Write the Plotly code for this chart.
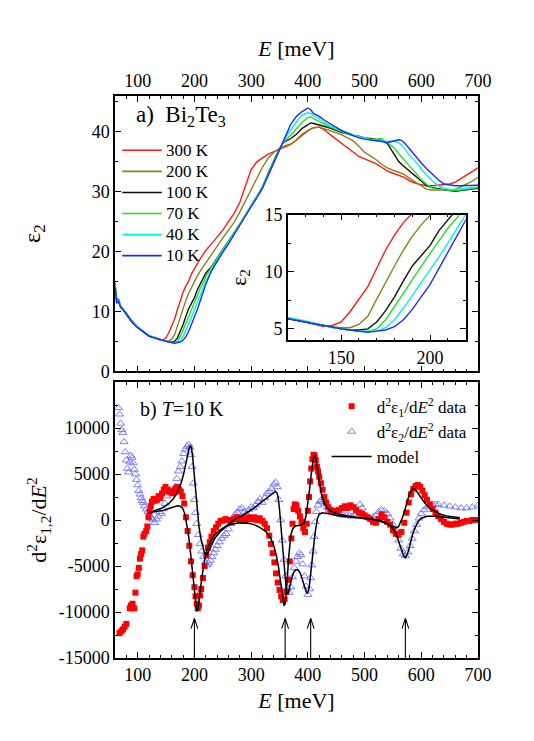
import plotly.graph_objects as go

# ---------- panel a) : eps2 spectra ----------
E_top = [60, 63, 66, 70, 75, 80, 90, 100, 110, 120, 130, 140,
         145, 150, 155, 160, 165, 170, 175, 180, 185, 190, 195, 200, 205, 210, 215, 220,
         230, 240, 250, 260, 270, 280, 290, 300, 310, 320, 330, 340, 350, 355, 360,
         370, 380, 390, 400, 405, 410, 420, 430, 440, 450, 460, 470, 480, 490, 500,
         510, 520, 530, 540, 550, 560, 565, 570, 580, 590, 600, 610, 620, 630, 640,
         650, 660, 670, 680, 690, 700]

eps2_300K = [14.0, 12.2, 11.5, 10.9, 10.2, 9.5, 8.2, 7.3, 6.6, 5.9, 5.6, 5.2,
             5.3, 5.6, 6.5, 7.6, 8.7, 10.3, 11.9, 13.2, 14.3, 15.1, 16.3, 17.2, 18.0, 18.8, 19.5, 20.2,
             21.3, 22.4, 23.6, 25.0, 26.4, 28.2, 31.0, 33.7, 35.0, 35.7, 36.3, 36.7, 37.1, 37.4, 37.6,
             37.9, 38.7, 39.6, 40.2, 40.5, 40.7, 40.8, 40.3, 39.5, 38.8, 38.1, 37.3, 36.6, 35.9, 35.5,
             35.1, 34.7, 34.1, 33.5, 33.1, 32.8, 32.6, 32.4, 31.8, 31.4, 31.2, 31.0, 31.0, 31.1, 31.2,
             31.3, 31.6, 32.2, 32.9, 33.4, 34.0]
eps2_200K = [14.3, 11.8, 11.9, 10.7, 10.3, 9.6, 8.3, 7.3, 6.6, 5.9, 5.6, 5.3,
             5.2, 5.1, 5.1, 5.4, 6.1, 7.6, 9.1, 10.5, 11.9, 13.1, 14.1, 15.0, 15.9, 16.7, 17.4, 18.1,
             19.7, 21.0, 22.3, 23.6, 24.9, 26.6, 28.5, 30.5, 32.4, 34.1, 35.6, 36.6, 37.2, 37.5, 37.7,
             38.0, 38.6, 39.4, 40.2, 40.5, 40.7, 40.8, 40.5, 40.2, 39.9, 39.5, 39.0, 38.5, 37.6, 36.6,
             36.0, 35.4, 34.6, 34.0, 33.6, 33.3, 33.1, 32.9, 32.2, 31.6, 31.0, 30.4, 30.3, 30.3, 30.2,
             30.3, 30.4, 30.8, 31.3, 31.8, 32.4]
eps2_100K = [14.8, 11.4, 12.1, 10.9, 10.2, 9.7, 8.4, 7.4, 6.7, 5.9, 5.6, 5.3,
             5.1, 5.0, 4.9, 4.9, 5.0, 5.6, 6.6, 7.8, 9.2, 10.5, 11.4, 12.3, 13.6, 14.5, 15.5, 16.4,
             17.5, 18.9, 20.2, 21.6, 23.2, 24.6, 26.1, 27.6, 29.1, 30.8, 33.1, 35.3, 37.2, 38.0, 38.4,
             38.9, 39.6, 40.6, 41.3, 41.5, 41.4, 41.2, 40.9, 40.6, 40.2, 39.9, 39.7, 39.4, 39.3, 39.0,
             38.9, 38.8, 38.6, 38.1, 36.6, 35.1, 34.6, 34.2, 33.4, 32.6, 31.7, 31.0, 30.7, 30.5, 30.4,
             30.2, 30.1, 30.2, 30.3, 30.5, 30.6]
eps2_70K = [14.6, 11.6, 12.0, 10.8, 10.3, 9.6, 8.3, 7.4, 6.7, 6.0, 5.6, 5.3,
            5.1, 5.0, 4.9, 4.8, 4.8, 5.0, 5.8, 6.9, 8.1, 9.3, 10.5, 11.6, 12.7, 13.8, 14.7, 15.8,
            17.4, 18.8, 20.2, 21.6, 23.1, 24.6, 26.1, 27.6, 29.1, 30.7, 33.0, 35.2, 37.2, 38.0, 38.6,
            39.5, 40.5, 41.6, 42.4, 42.5, 42.2, 41.7, 41.2, 40.8, 40.4, 40.0, 39.7, 39.4, 39.2, 39.0,
            38.8, 38.8, 38.9, 38.2, 37.5, 36.4, 35.8, 35.3, 34.2, 33.2, 32.0, 31.2, 30.6, 30.4, 30.3,
            30.2, 30.2, 30.3, 30.5, 30.6, 30.7]
eps2_40K = [14.4, 11.7, 11.8, 10.8, 10.2, 9.6, 8.3, 7.4, 6.7, 6.0, 5.7, 5.3,
            5.1, 5.0, 4.9, 4.8, 4.8, 4.8, 5.1, 5.8, 6.8, 7.9, 9.1, 10.2, 11.3, 12.5, 13.8, 15.0,
            16.9, 18.6, 20.1, 21.5, 23.0, 24.5, 26.1, 27.6, 29.1, 30.7, 32.8, 35.0, 37.2, 38.0, 39.0,
            40.4, 41.7, 42.8, 43.2, 43.1, 42.7, 42.2, 41.5, 41.0, 40.6, 40.2, 39.8, 39.5, 39.2, 38.9,
            38.7, 38.6, 38.5, 38.4, 38.5, 38.2, 37.8, 37.3, 36.0, 35.0, 33.8, 32.7, 31.8, 31.0, 30.6,
            30.4, 30.4, 30.5, 30.6, 30.7, 30.8]
eps2_10K = [14.2, 11.5, 11.7, 10.7, 10.2, 9.5, 8.2, 7.3, 6.6, 5.9, 5.6, 5.3,
            5.1, 5.0, 4.9, 4.8, 4.7, 4.8, 4.9, 5.2, 5.8, 6.7, 7.8, 8.9, 10.3, 11.7, 13.1, 14.5,
            16.8, 18.4, 19.9, 21.3, 22.9, 24.5, 26.0, 27.5, 29.0, 30.6, 32.7, 34.9, 37.2, 38.1, 39.4,
            41.3, 42.6, 43.4, 44.0, 43.7, 43.1, 42.6, 41.9, 41.3, 40.8, 40.2, 39.8, 39.4, 39.0, 38.8,
            38.7, 38.6, 38.4, 38.2, 38.4, 38.7, 38.6, 38.2, 37.1, 35.9, 34.8, 33.8, 32.9, 32.0, 31.3,
            31.1, 31.0, 31.0, 31.0, 31.0, 31.1]

temps = ['300 K', '200 K', '100 K', '70 K', '40 K', '10 K']
spectra = [eps2_300K, eps2_200K, eps2_100K, eps2_70K, eps2_40K, eps2_10K]
colors = ['#ff1a1a', '#8c8214', '#111111', '#22e022', '#00f0f0', '#1a2cff']

# ---------- panel b) : second derivatives at 10 K ----------
E_d1 = [68, 71, 74, 77, 80, 86, 88, 91, 94, 96, 98, 100, 102, 104, 106, 108, 110, 112, 115, 117,
        119, 121, 123, 125, 128, 131, 134, 137, 140, 143, 146, 149, 152, 155, 158, 161, 164, 167,
        170, 173, 176, 179, 182, 185, 188, 191, 194, 197, 200, 202, 204, 206, 208, 210, 212, 215,
        218, 221, 224, 227, 230, 234, 238, 242, 246, 250, 255, 260, 265, 270, 275, 280, 285, 290,
        295, 300, 305, 310, 315, 320, 324, 328, 332, 335, 338, 341, 344, 347, 350, 353, 356, 359,
        362, 365, 368, 371, 373, 375, 377, 380, 383, 386, 389, 392, 395, 398, 400, 402, 404, 406,
        408, 410, 412, 414, 416, 418, 420, 423, 426, 429, 432, 436, 440, 445, 450, 455, 460, 465,
        470, 475, 480, 485, 490, 495, 500, 505, 510, 515, 520, 525, 530, 535, 540, 545, 550, 555,
        560, 565, 570, 574, 578, 582, 586, 590, 594, 598, 602, 606, 610, 615, 620, 625, 630, 635,
        640, 645, 650, 655, 660, 665, 670, 675, 680, 685, 690, 695, 700]
d2eps1 = [-12300, -12100, -11900, -11600, -11300, -9600, -9300, -9100, -9600, -7900, -6100, -5900,
          -5200, -4200, -3700, -3300, -1800, -1500, -1200, -700, 300, 900, 1500, 2000, 2300, 2100,
          2200, 2600, 2400, 2900, 3300, 3600, 3300, 3100, 3100, 2900, 3200, 3400, 3600, 3300, 3100,
          2600, 1800, 300, -1200, -2800, -4500, -6000, -7300, -8300, -9100, -9600, -9300, -8200,
          -7500, -6300, -5000, -3800, -3000, -2400, -1800, -1200, -800, -400, -100, -50, 100, 0,
          -200, 100, 300, 0, 200, -100, 300, 100, 300, 0, 200, -100, -400, -900, -1700, -2600,
          -3600, -4600, -5800, -6800, -7600, -8300, -8700, -8600, -7800, -6500, -4500, -2000, -400,
          1200, 1700, 1600, 1000, 400, -200, -900, -1300, -400, 1000, 2500, 4200, 5600, 6600, 7100,
          7000, 6500, 5800, 5300, 4700, 4000, 3300, 2500, 1900, 1400, 1100, 1000, 1000, 1100, 1300,
          1500, 1300, 1600, 1400, 1100, 800, 700, 500, 300, 100, -200, -300, 100, 600, 300, -200,
          -500, -1100, -1500, -1600, -1300, -300, 800, 1900, 2800, 3400, 3700, 3800, 3600, 3200,
          2700, 2200, 1700, 1200, 800, 400, 100, -200, -400, -500, -500, -400, -400, -300, -200,
          -100, -100, 0, 0, 0]

E_d2 = [66, 68, 70, 72, 74, 76, 78, 80, 82, 84, 86, 88, 90, 92, 94, 96, 98, 100, 102, 104, 106,
        108, 110, 112, 115, 118, 121, 124, 127, 130, 133, 136, 139, 142, 145, 148, 151, 154, 157,
        160, 163, 166, 169, 172, 175, 178, 181, 184, 187, 190, 192, 194, 196, 198, 200, 202, 204,
        207, 210, 213, 216, 219, 222, 225, 228, 231, 234, 237, 240, 244, 248, 252, 256, 260, 264,
        268, 272, 276, 280, 284, 288, 292, 296, 300, 304, 308, 312, 316, 320, 324, 328, 332, 336,
        340, 343, 346, 349, 352, 355, 358, 361, 364, 367, 370, 373, 376, 379, 382, 385, 388, 391,
        394, 397, 400, 403, 405, 407, 409, 411, 413, 415, 418, 421, 424, 427, 430, 434, 438, 443,
        448, 453, 458, 463, 468, 473, 478, 483, 488, 492, 496, 500, 505, 510, 515, 520, 525, 530,
        535, 540, 545, 550, 555, 560, 564, 568, 572, 576, 580, 584, 588, 592, 596, 600, 605, 610,
        615, 620, 625, 630, 640, 650, 660, 670, 680, 690, 700]
d2eps2 = [12200, 11500, 10500, 9800, 9500, 8500, 7400, 6500, 5600, 5200, 6300, 7000, 6800, 6200,
          5500, 5000, 4400, 3800, 3200, 2800, 2400, 2100, 1900, 1500, 1200, 900, 500, 200, 0, -300,
          100, 400, 900, 700, 1200, 1800, 2600, 3000, 3300, 3100, 2900, 3600, 4500, 5300, 5800,
          6400, 7200, 7700, 8000, 8200, 7900, 7100, 5800, 4000, 2200, 800, -400, -1600, -2600, -3400,
          -4000, -4600, -4900, -4700, -4400, -4000, -3600, -3200, -2800, -2400, -2000, -1700, -1500,
          -1000, -400, 200, 600, 800, 1200, 1300, 900, 700, 1100, 1400, 1300, 1600, 2000, 2300, 1900,
          2400, 2900, 3100, 3400, 3900, 4100, 3600, 2200, 0, -2200, -4300, -6100, -7400, -7900,
          -7300, -6200, -5200, -4500, -4000, -3600, -3800, -4800, -6100, -7200, -8100, -7500, -6300,
          -4900, -3400, -1800, -200, 900, 1600, 2000, 2200, 2000, 1800, 1400, 1100, 900, 800, 700,
          600, 500, 500, 500, 400, 500, 900, 1700, 1300, 600, 300, 200, 300, 500, 900, 1100, 1000,
          700, 200, -500, -1300, -2200, -3100, -3700, -3900, -3500, -2800, -2000, -1200, -500, 200,
          700, 1100, 1400, 1600, 1700, 1700, 1700, 1600, 1500, 1400, 1300, 1300, 1400, 1600]

E_modelA = [120, 135, 145, 155, 163, 170, 176, 181, 185, 188, 191, 193, 195, 197, 199, 201, 203,
            205, 208, 211, 214, 217, 220, 222, 225, 230, 236, 245, 255, 265, 275, 285, 295, 305,
            315, 325, 333, 339, 343, 346, 348, 350, 352, 354, 356, 358, 360, 362, 364, 366, 368,
            370, 373, 376, 379, 382, 385, 388, 391, 394, 397, 399, 401, 403, 405, 407, 409, 411,
            413, 415, 417, 420, 425, 435, 450, 470, 490, 510, 525, 535, 545, 552, 558, 562, 566,
            569, 572, 575, 578, 581, 585, 590, 595, 600, 610, 625, 640, 655, 668]
modelA = [800, 1100, 1350, 1800, 2300, 3000, 3900, 5000, 6200, 7100, 7900, 8100, 7800, 6800, 5400,
          3800, 2200, 900, -700, -1900, -2800, -3400, -3700, -3800, -3400, -2700, -2000, -1300,
          -700, -200, 200, 500, 900, 1300, 1800, 2300, 2700, 3000, 3100, 2900, 2300, 1200, -300,
          -2000, -3800, -5500, -6700, -7600, -8000, -7900, -7300, -6600, -6000, -5600, -5400, -5400,
          -5600, -6000, -6600, -7300, -7800, -8000, -7700, -7000, -6000, -4800, -3600, -2400, -1300,
          -400, 200, 600, 800, 700, 500, 350, 250, 100, 0, -200, -600, -1100, -1900, -2700, -3400,
          -3900, -4100, -3800, -3200, -2400, -1500, -700, -100, 200, 400, 400, 300, 200, 100]

E_modelB = [120, 135, 145, 155, 163, 170, 175, 179, 183, 186, 189, 192, 195, 198, 200, 202, 204,
            206, 208, 210, 213, 216, 219, 223, 228, 235, 245, 255, 265, 280, 295, 305, 315, 325,
            333, 339, 344, 348, 351, 354, 356, 358, 360, 362, 364, 366, 368, 370, 373, 377, 382,
            387, 391, 394, 397, 400, 403, 406, 408, 410, 412, 414, 416, 418, 421, 424, 428, 433,
            440, 450, 465, 485, 505, 520, 535, 545, 553, 557, 560, 563, 567, 571, 575, 579, 583,
            586, 590, 595, 600, 607, 615, 625, 635, 645, 655, 668]
modelB = [800, 950, 1050, 1250, 1450, 1550, 1500, 1300, 700, -200, -1400, -2900, -4600, -6500,
          -8000, -9200, -9900, -9800, -9000, -7900, -6300, -5000, -4000, -3100, -2400, -1700, -1100,
          -700, -450, -300, -350, -500, -800, -1200, -1800, -2600, -3700, -5000, -6400, -7900, -8900,
          -9300, -9100, -8000, -6200, -4200, -2600, -1600, -1000, -700, -600, -600, -500, -200, 500,
          1700, 3300, 5000, 6100, 6800, 7000, 6600, 5900, 5000, 3800, 2800, 2000, 1400, 1000, 700,
          500, 300, 200, 0, -300, -550, -800, -850, -700, -300, 300, 1100, 2000, 2800, 3300, 3450,
          3300, 2900, 2400, 1800, 1300, 900, 600, 450, 350, 250]

arrow_E = [200, 360, 405, 572]

y2_ticks = [-15000, -10000, -5000, 0, 5000, 10000]

FONT = 'Liberation Serif, Times New Roman, serif'

fig = go.Figure()

# panel a
for vals, c in zip(spectra, colors):
    fig.add_trace(go.Scatter(x=E_top, y=vals, mode='lines', showlegend=False,
                             line=dict(color=c, width=1.4), xaxis='x', yaxis='y'))
# inset
for vals, c in zip(spectra, colors):
    fig.add_trace(go.Scatter(x=E_top, y=vals, mode='lines', showlegend=False,
                             line=dict(color=c, width=1.4), xaxis='x3', yaxis='y3'))

# panel b
fig.add_trace(go.Scatter(x=E_d2, y=d2eps2, mode='markers', xaxis='x2', yaxis='y2',
                         name='d<sup>2</sup>ε<sub>2</sub>/d<i>E</i><sup>2</sup> data',
                         legendrank=2,
                         marker=dict(symbol='triangle-up-open', size=7, color='#6f6fff',
                                     line=dict(width=0.9))))
fig.add_trace(go.Scatter(x=E_d1, y=d2eps1, mode='markers', xaxis='x2', yaxis='y2',
                         name='d<sup>2</sup>ε<sub>1</sub>/d<i>E</i><sup>2</sup> data',
                         legendrank=1,
                         marker=dict(symbol='square', size=6, color='#ff0000')))
fig.add_trace(go.Scatter(x=E_modelA, y=modelA, mode='lines', xaxis='x2', yaxis='y2',
                         name='model', legendrank=3,
                         line=dict(color='black', width=1.5)))
fig.add_trace(go.Scatter(x=E_modelB, y=modelB, mode='lines', xaxis='x2', yaxis='y2',
                         showlegend=False, line=dict(color='black', width=1.5)))

# arrows marking the transitions
ax, ay = [], []
for e in arrow_E:
    ax += [e, e, None, e - 6, e, e + 6, None]
    ay += [-15000, -10700, None, -11800, -10700, -11800, None]
fig.add_trace(go.Scatter(x=ax, y=ay, mode='lines', xaxis='x2', yaxis='y2', showlegend=False,
                         line=dict(color='black', width=1.1)))

# hand-made legend for panel a (tighter rows than plotly's legend)
shapes, annotations = [], []
for i, (name, c) in enumerate(zip(temps, colors)):
    yy = 0.9034 - i * 0.0375
    shapes.append(dict(type='line', xref='paper', yref='paper', x0=0.020, x1=0.129,
                       y0=yy, y1=yy, line=dict(color=c, width=1.6)))
    annotations.append(dict(text=name, xref='paper', yref='paper', x=0.136, y=yy,
                            xanchor='left', yanchor='middle', showarrow=False,
                            font=dict(size=17)))

annotations += [
    dict(text='a)  Bi<sub>2</sub>Te<sub>3</sub>', xref='paper', yref='paper',
         x=0.052, y=0.965, xanchor='left', yanchor='middle', showarrow=False,
         font=dict(size=23)),
    dict(text='b) <i>T</i>=10 K', xref='paper', yref='paper',
         x=0.062, y=0.443, xanchor='left', yanchor='middle', showarrow=False,
         font=dict(size=20)),
]

axis_common = dict(showline=True, linecolor='black', linewidth=1.5, mirror='ticks',
                   ticks='inside', ticklen=6, tickwidth=1.2, tickcolor='black',
                   showgrid=False, zeroline=False,
                   tickfont=dict(family=FONT, size=18, color='black'))

fig.update_layout(
    width=526, height=733,
    margin=dict(l=107, r=56, t=88, b=83),
    plot_bgcolor='white', paper_bgcolor='white',
    font=dict(family=FONT, size=17, color='black'),
    xaxis=dict(axis_common, domain=[0, 1], anchor='y', side='top', range=[60, 700],
               tick0=0, dtick=100,
               minor=dict(dtick=20, ticklen=3, ticks='inside', tickcolor='black'),
               title=dict(text='<i>E</i> [meV]', font=dict(size=22), standoff=8)),
    yaxis=dict(axis_common, domain=[0.510, 1], anchor='x', range=[0, 46], dtick=10,
               minor=dict(dtick=5, ticklen=3, ticks='inside', tickcolor='black'),
               title=dict(text='ε<sub>2</sub>', font=dict(size=24), standoff=44)),
    xaxis2=dict(axis_common, domain=[0, 1], anchor='y2', range=[60, 700], tick0=0, dtick=100,
                minor=dict(dtick=20, ticklen=3, ticks='inside', tickcolor='black'),
                title=dict(text='<i>E</i> [meV]', font=dict(size=22), standoff=8)),
    yaxis2=dict(axis_common, domain=[0, 0.491], anchor='x2', range=[-15000, 15000],
                tickvals=y2_ticks, ticktext=[str(v) for v in y2_ticks],
                minor=dict(dtick=2500, ticklen=3, ticks='inside', tickcolor='black'),
                title=dict(text='d<sup>2</sup>ε<sub>1,2</sub>/d<i>E</i><sup>2</sup>',
                           font=dict(size=22), standoff=6)),
    xaxis3=dict(axis_common, domain=[0.476, 0.966], anchor='y3', range=[120, 220], dtick=50,
                minor=dict(dtick=10, ticklen=3, ticks='inside', tickcolor='black')),
    yaxis3=dict(axis_common, domain=[0.5653, 0.789], anchor='x3', range=[4, 15], dtick=5,
                minor=dict(dtick=2.5, ticklen=3, ticks='inside', tickcolor='black'),
                title=dict(text='ε<sub>2</sub>', font=dict(size=22), standoff=12)),
    showlegend=True,
    legend=dict(x=0.583, y=0.479, xanchor='left', yanchor='top', bgcolor='rgba(0,0,0,0)',
                itemwidth=40, font=dict(size=17)),
    shapes=shapes,
    annotations=annotations,
)

fig.write_html("out.html")
